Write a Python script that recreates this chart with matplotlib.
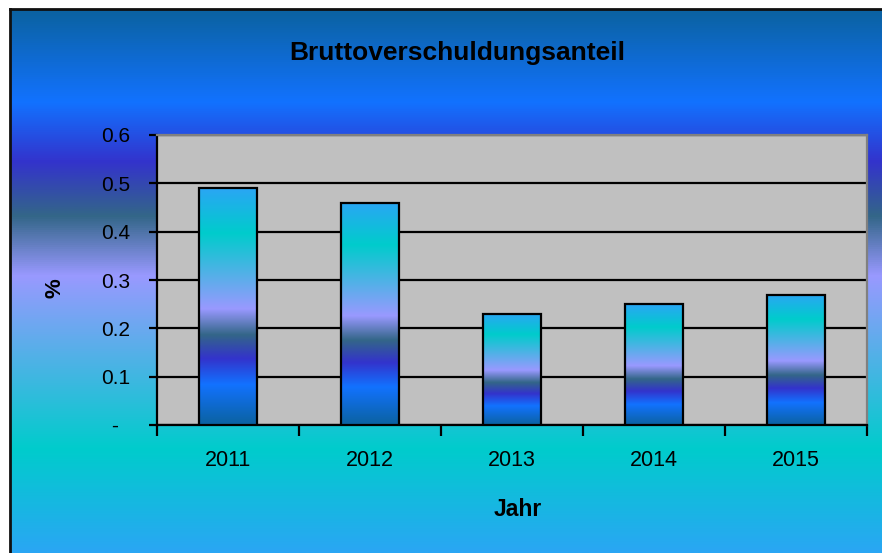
import numpy as np
import matplotlib.pyplot as plt
from matplotlib.colors import LinearSegmentedColormap

years = ["2011", "2012", "2013", "2014", "2015"]
anteil = [0.49, 0.46, 0.23, 0.25, 0.27]
yticks = [0, 0.1, 0.2, 0.3, 0.4, 0.5, 0.6]
ylabels = ["-  ", "0.1", "0.2", "0.3", "0.4", "0.5", "0.6"]

plt.rcParams['font.family'] = ['Liberation Sans', 'DejaVu Sans']

# gradient preset (dark end -> light end)
stops = [(0.00, "#0b62a0"), (0.17, "#1272ff"), (0.28, "#3333cc"),
         (0.38, "#336688"), (0.49, "#9999ff"), (0.81, "#00cccc"),
         (1.00, "#2aa6f4")]
ocean = LinearSegmentedColormap.from_list("ocean_preset", stops)
grad = np.linspace(0, 1, 512).reshape(-1, 1)

W, H = 882, 553
fig = plt.figure(figsize=(W / 100, H / 100), dpi=100)
fig.patch.set_facecolor("white")

# background panel
bg = fig.add_axes([10 / W, 0, 1 - 10 / W, 1 - 9 / H])
bg.imshow(grad, cmap=ocean, aspect="auto", origin="upper", extent=[0, 1, 0, 1])
bg.set_xlim(0, 1)
bg.set_ylim(0, 1)
bg.set_xticks([])
bg.set_yticks([])
for s in ["right", "bottom"]:
    bg.spines[s].set_visible(False)
for s in ["left", "top"]:
    bg.spines[s].set_color("#101010")
    bg.spines[s].set_linewidth(2)

# plot area
ax = fig.add_axes([157 / W, (H - 425) / H, (867 - 157) / W, (425 - 135) / H])
ax.set_facecolor("#c0c0c0")
x = np.arange(len(years))
bw = 0.41
ax.set_axisbelow(True)
ax.grid(axis="y", color="black", linewidth=1.6)
bars = ax.bar(x, anteil, width=bw, facecolor="none", edgecolor="black",
              linewidth=1.6, zorder=4)
for b in bars:
    x0, y0 = b.get_x(), b.get_y()
    ax.imshow(grad, cmap=ocean, aspect="auto", origin="lower",
              extent=[x0, x0 + b.get_width(), y0, y0 + b.get_height()], zorder=3)

ax.set_xlim(-0.5, len(years) - 0.5)
ax.set_ylim(0, 0.6)
ax.set_yticks(yticks)
ax.set_yticklabels(ylabels, fontsize=15)
ax.set_xticks(np.arange(len(years) + 1) - 0.5)
ax.set_xticklabels([])
ax.set_xticks(x, minor=True)
ax.set_xticklabels(years, minor=True, fontsize=15.5)
ax.tick_params(axis="x", which="major", direction="out", length=8, width=1.6)
ax.tick_params(axis="x", which="minor", length=0, pad=18)
ax.tick_params(axis="y", direction="out", length=6, width=1.6, pad=13)
ax.spines["left"].set_linewidth(1.6)
ax.spines["bottom"].set_linewidth(1.6)
for s in ["top", "right"]:
    ax.spines[s].set_color("#808080")
    ax.spines[s].set_linewidth(1.6)

fig.text(457 / W, 1 - 53 / H, "Bruttoverschuldungsanteil", ha="center",
         va="center", fontsize=19, fontweight="bold")
fig.text(518 / W, 1 - 510 / H, "Jahr", ha="center", va="center",
         fontsize=16.5, fontweight="bold")
fig.text(55 / W, 1 - 288 / H, "%", ha="center", va="center",
         fontsize=16, fontweight="bold", rotation=90)

fig.savefig("out.png", dpi=100)
